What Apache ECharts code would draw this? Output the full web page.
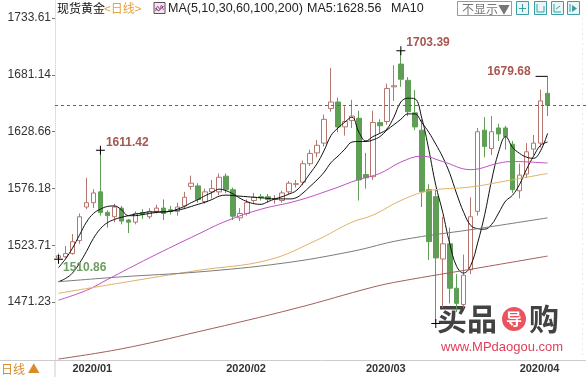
<!DOCTYPE html>
<html>
<head>
<meta charset="utf-8">
<script src="https://cdn.jsdelivr.net/npm/echarts@6/dist/echarts.min.js"></script>
<style>
  html, body { margin: 0; padding: 0; background: #fff; }
  #main { width: 586px; height: 377px; }
</style>
</head>
<body>
<div id="main"></div>
<script>
// trading days shown on the chart
var dates = [
  '2019/12/30', '2019/12/31',
  '2020/01/02', '2020/01/03', '2020/01/06', '2020/01/07', '2020/01/08', '2020/01/09', '2020/01/10',
  '2020/01/13', '2020/01/14', '2020/01/15', '2020/01/16', '2020/01/17', '2020/01/20', '2020/01/21',
  '2020/01/22', '2020/01/23', '2020/01/24', '2020/01/27', '2020/01/28', '2020/01/29', '2020/01/30', '2020/01/31',
  '2020/02/03', '2020/02/04', '2020/02/05', '2020/02/06', '2020/02/07', '2020/02/10', '2020/02/11',
  '2020/02/12', '2020/02/13', '2020/02/14', '2020/02/17', '2020/02/18', '2020/02/19', '2020/02/20',
  '2020/02/21', '2020/02/24', '2020/02/25', '2020/02/26', '2020/02/27', '2020/02/28',
  '2020/03/02', '2020/03/03', '2020/03/04', '2020/03/05', '2020/03/06', '2020/03/09', '2020/03/10',
  '2020/03/11', '2020/03/12', '2020/03/13', '2020/03/16', '2020/03/17', '2020/03/18', '2020/03/19',
  '2020/03/20', '2020/03/23', '2020/03/24', '2020/03/25', '2020/03/26', '2020/03/27', '2020/03/30', '2020/03/31',
  '2020/04/01', '2020/04/02', '2020/04/03', '2020/04/06', '2020/04/07'
];

var opens = [
  1512, 1513,
  1516, 1528, 1559, 1563, 1573, 1554, 1550, 1558, 1547, 1545, 1554, 1550, 1555, 1558,
  1556.5, 1555, 1560, 1578, 1578.5, 1564, 1573, 1573,
  1587.5, 1575, 1549, 1553, 1565, 1568.5, 1568.5, 1566, 1565, 1573, 1580, 1582, 1599, 1609,
  1618, 1650, 1656, 1633, 1639, 1641,
  1589, 1587, 1637, 1638, 1670, 1691, 1676, 1646, 1630, 1575, 1568.5, 1511, 1525, 1484,
  1469, 1501, 1555, 1630, 1613, 1632, 1632, 1617,
  1574, 1589.5, 1612.5, 1618, 1664
];
var closes = [
  1514, 1516,
  1527, 1550, 1563, 1572, 1554, 1551, 1559, 1546, 1545, 1553, 1552, 1555, 1558, 1553,
  1555, 1559, 1568, 1581, 1566, 1573, 1576, 1586.5,
  1575, 1550.5, 1553, 1563, 1568, 1567.5, 1566, 1566.5, 1572, 1581, 1580.5, 1599, 1608.5, 1616,
  1640, 1656, 1633, 1638, 1643, 1584,
  1586, 1637, 1634, 1668.5, 1671, 1677, 1647, 1633, 1573, 1527, 1512, 1525, 1484, 1470,
  1496, 1550, 1628.5, 1615, 1628.5, 1626.5, 1624, 1575,
  1588.5, 1610, 1618, 1657, 1653
];
var lows = [
  1510.86, 1512,
  1515, 1525, 1557, 1558, 1551, 1540, 1545, 1543, 1535, 1543, 1548, 1548, 1553, 1547,
  1552, 1551, 1557, 1575, 1563, 1562, 1567, 1570,
  1572, 1547, 1546, 1551, 1562, 1565, 1563, 1562, 1563, 1571, 1577, 1579, 1597, 1605,
  1615, 1647, 1628, 1625, 1632, 1565,
  1576, 1584, 1627, 1635, 1657, 1670, 1643, 1630, 1559, 1510, 1451.5, 1466, 1470, 1462,
  1466, 1497, 1551, 1605, 1607, 1620, 1612, 1572,
  1567, 1586, 1607, 1614, 1643
];
var highs = [
  1516, 1523,
  1534, 1553, 1586, 1575.5, 1611.42, 1556, 1562, 1560, 1548, 1555, 1557, 1558, 1561, 1566,
  1560, 1563, 1573, 1588, 1581, 1576, 1584, 1590,
  1590, 1577, 1558, 1566, 1572, 1571, 1571, 1570, 1574, 1583, 1584, 1602, 1612, 1621,
  1644.5, 1687.5, 1660, 1652, 1658, 1648,
  1609, 1648, 1640, 1673, 1690, 1703.39, 1679, 1667, 1640, 1580, 1575, 1550, 1540, 1497,
  1515, 1568, 1632, 1642, 1643, 1636, 1634, 1620,
  1599, 1618, 1625.5, 1667.5, 1679.68
];

// moving averages
var ma5 = [
  1503, 1511, 1521, 1533, 1545, 1553, 1557, 1559.5, 1560, 1556.5, 1551, 1551, 1552, 1553, 1554, 1554.5,
  1555, 1557, 1559.5, 1563, 1566, 1569.5, 1572.5, 1575.5, 1574, 1571, 1567, 1564, 1562, 1561.5, 1564,
  1566.5, 1568.5, 1571, 1574, 1581, 1590, 1599, 1611, 1625, 1632, 1637.5, 1642, 1628, 1620, 1624, 1627,
  1631, 1642, 1656, 1659.5, 1659, 1641, 1612, 1579, 1554, 1525, 1504, 1498, 1505, 1526, 1552, 1584,
  1610, 1624, 1614, 1608.5, 1605, 1604, 1611, 1627
];
var ma10 = [
  1490, 1493, 1498, 1507, 1518, 1530, 1539, 1544.5, 1547.5, 1549.5, 1551, 1552.5, 1553.5, 1554.5, 1554.5,
  1554.5, 1555, 1556, 1557.5, 1559.5, 1561.5, 1563.5, 1566, 1569, 1570, 1569.5, 1569, 1568.5, 1568, 1567.5,
  1567, 1566.5, 1566.5, 1566.5, 1567.5, 1572, 1578, 1584, 1591, 1600, 1606, 1612.5, 1619, 1619.5, 1619.5,
  1621, 1624, 1630, 1635, 1640, 1645, 1645, 1637, 1628, 1617, 1605, 1590, 1571, 1554, 1542, 1539, 1538.5,
  1543, 1553.5, 1564.5, 1570, 1580, 1594, 1606, 1616, 1619
];
// [day index, value] points for the slow averages
var ma30 = [[0, 1473], [4, 1482], [7, 1492], [13, 1512], [20, 1534], [24, 1546], [29, 1557], [34, 1564.5],
  [39, 1575], [43, 1584.5], [46, 1590], [49, 1600.5], [52, 1606], [55, 1601], [59, 1593.5], [63, 1599.5],
  [65, 1601], [70, 1599.6]];
var ma60 = [[0, 1479.3], [9, 1489], [20, 1500.5], [30, 1510], [37, 1528.5], [42, 1545], [45, 1551.5],
  [49, 1565], [53, 1574], [59, 1577.5], [64, 1583], [70, 1590]];
var ma100 = [[0, 1490], [9, 1494.5], [20, 1499], [32, 1507], [42, 1518], [49, 1528.5], [60, 1539], [70, 1549]];
var ma200 = [[0, 1418.6], [9, 1428], [20, 1443.8], [34, 1465.5], [45, 1485], [49, 1490.5], [60, 1502.6], [70, 1513.7]];

var yTicks = [1471.23, 1523.71, 1576.18, 1628.66, 1681.14, 1733.61];

var font = '"Liberation Sans", Arial, "Noto Sans CJK SC", sans-serif';
var cjk = '"Noto Sans CJK SC", "Liberation Sans", sans-serif';

function isMonthStart(idx) {
  if (idx <= 0 || idx >= dates.length) return false;
  return dates[idx].slice(0, 7) !== dates[idx - 1].slice(0, 7);
}

var candles = dates.map(function (d, i) {
  return [opens[i], closes[i], lows[i], highs[i]];
});
var last = dates.length - 1;

var chart = echarts.init(document.getElementById('main'));

function maLine(name, data, color) {
  return {
    name: name,
    type: 'line',
    data: data,
    smooth: 0.4,
    showSymbol: false,
    symbol: 'none',
    silent: true,
    lineStyle: { width: 1, color: color }
  };
}

var plus = 'path://M0,4H9V5H0Z M4,0H5V9H4Z';

var option = {
  animation: false,
  backgroundColor: '#ffffff',
  grid: { left: 55, top: 0, width: 532, height: 360 },
  xAxis: {
    type: 'category',
    data: dates,
    max: 75,
    boundaryGap: true,
    axisLine: { lineStyle: { color: '#cccccc' } },
    axisTick: { alignWithLabel: true, length: 5, interval: isMonthStart, lineStyle: { color: '#999999' } },
    axisLabel: {
      interval: isMonthStart,
      formatter: function (v) { return v ? v.slice(0, 7) : ''; },
      align: 'left',
      margin: 3,
      fontSize: 11,
      fontWeight: 'bold',
      color: '#333333',
      fontFamily: font
    },
    splitLine: { show: false }
  },
  yAxis: {
    type: 'value',
    min: 1417.7,
    max: 1750.2,
    axisLine: { show: true, lineStyle: { color: '#d9d9d9', type: 'dotted' } },
    axisTick: { show: true, length: 3, customValues: yTicks, lineStyle: { color: '#777777' } },
    axisLabel: {
      customValues: yTicks,
      formatter: function (v) { return v.toFixed(2); },
      margin: 4,
      fontSize: 12,
      color: '#333333',
      fontFamily: font
    },
    splitLine: { show: false }
  },
  series: [
    {
      name: '现货黄金',
      type: 'candlestick',
      data: candles,
      barWidth: 5,
      itemStyle: {
        color: '#ffffff',
        color0: '#5f9f55',
        borderColor: '#b4766e',
        borderColor0: '#5f9f55',
        borderWidth: 1
      },
      markLine: {
        silent: true,
        symbol: 'none',
        label: { show: false },
        lineStyle: { type: [3, 3], color: '#3d6f7f', width: 1 },
        data: [{ yAxis: closes[last] }]
      },
      markPoint: {
        silent: true,
        symbol: plus,
        symbolSize: 9,
        itemStyle: { color: '#000000' },
        label: {
          show: true,
          fontSize: 12,
          fontWeight: 'bold',
          color: '#a8564e',
          fontFamily: font,
          formatter: function (p) { return p.value.toFixed(2); }
        },
        data: [
          { coord: [6, highs[6]], value: highs[6], label: { position: 'right', offset: [-4, -8] } },
          { coord: [49, highs[49]], value: highs[49], label: { position: 'right', offset: [-4, -8] } },
          {
            coord: [last, highs[last]], value: highs[last],
            symbol: 'rect', symbolSize: [12, 1], symbolOffset: [-6, 0],
            label: { position: 'left', offset: [0, -5] }
          },
          { coord: [0, lows[0]], value: lows[0], label: { position: 'right', offset: [-5, 9], color: '#6e9e62' } },
          { coord: [54, lows[54]], value: lows[54], label: { show: false } }
        ]
      }
    },
    maLine('MA5', ma5, '#111111'),
    maLine('MA10', ma10, '#111111'),
    maLine('MA30', ma30, '#c24fc2'),
    maLine('MA60', ma60, '#e2b263'),
    maLine('MA100', ma100, '#7c7c7c'),
    maLine('MA200', ma200, '#a0605a')
  ],
  graphic: [
    // header line
    { type: 'text', left: 57, top: 2, style: { text: '现货黄金', fill: '#111111', font: '12px ' + cjk } },
    { type: 'text', left: 104, top: 2, style: { text: '<日线>', fill: '#e5a23a', font: '12px ' + cjk } },
    {
      type: 'group', left: 153, top: 2,
      children: [
        { type: 'rect', shape: { x: 0.5, y: 0.5, width: 11, height: 11 }, style: { fill: '#f6e3ee', stroke: '#555555', lineWidth: 1 } },
        { type: 'polyline', shape: { points: [[2, 9], [4, 4], [6, 7], [8, 3], [10, 8]] }, style: { stroke: '#c24fc2', fill: null, lineWidth: 1 } },
        { type: 'polyline', shape: { points: [[2, 6], [5, 9], [8, 6], [10, 4]] }, style: { stroke: '#333333', fill: null, lineWidth: 1 } }
      ]
    },
    { type: 'text', left: 168, top: 2, style: { text: 'MA(5,10,30,60,100,200)', fill: '#222222', font: '12.5px ' + font } },
    { type: 'text', left: 307, top: 2, style: { text: 'MA5:1628.56', fill: '#222222', font: '12.5px ' + font } },
    { type: 'text', left: 391, top: 2, style: { text: 'MA10', fill: '#222222', font: '12.5px ' + font } },
    {
      type: 'group', left: 457, top: 1,
      children: [
        { type: 'rect', shape: { x: 0.5, y: 0.5, width: 54, height: 14 }, style: { fill: '#ffffff', stroke: '#999999', lineWidth: 1 } },
        { type: 'text', x: 5, y: 2, style: { text: '不显示▼', fill: '#777777', font: '12px ' + cjk } }
      ]
    },
    {
      type: 'group', left: 516, top: 1,
      children: [0, 18, 35, 51].map(function (dx) {
        return { type: 'rect', shape: { x: dx + 0.5, y: 0.5, width: 12, height: 13 }, style: { fill: '#eaf6f6', stroke: '#3a9fa5', lineWidth: 1 } };
      }).concat([
        { type: 'polyline', shape: { points: [[6.5, 3], [6.5, 11]] }, style: { stroke: '#3a9fa5', fill: null } },
        { type: 'polyline', shape: { points: [[3, 7.5], [10, 7.5]] }, style: { stroke: '#3a9fa5', fill: null } },
        { type: 'polyline', shape: { points: [[21, 3], [21, 11], [28, 11], [28, 5]] }, style: { stroke: '#3a9fa5', fill: null } },
        { type: 'polyline', shape: { points: [[38, 3], [38, 11], [45, 11]] }, style: { stroke: '#3a9fa5', fill: null } },
        { type: 'polyline', shape: { points: [[40, 8], [44, 5]] }, style: { stroke: '#3a9fa5', fill: null } },
        { type: 'polyline', shape: { points: [[54, 3], [54, 11]] }, style: { stroke: '#3a9fa5', fill: null } },
        { type: 'polygon', shape: { points: [[56, 4], [61, 7.5], [56, 11]] }, style: { fill: '#3a9fa5' } }
      ])
    },
    // bottom-left period box
    { type: 'rect', shape: { x: -1, y: 360.5, width: 56, height: 18 }, style: { fill: '#ffffff', stroke: '#cccccc', lineWidth: 1 } },
    { type: 'text', left: 1, top: 363, style: { text: '日线 ▲', fill: '#d98c2b', font: '12px ' + cjk } },
    // faint right border
    { type: 'line', shape: { x1: 582.5, y1: 18, x2: 582.5, y2: 358 }, style: { stroke: '#e8e8e8', lineDash: [2, 3] } },
    // watermark
    {
      type: 'group', left: 437, top: 304, z: 100,
      children: [
        { type: 'text', x: 0, y: 0, style: { text: '买品', fill: '#2e2e2e', font: 'bold 30px ' + cjk, opacity: 0.9 } },
        { type: 'circle', shape: { cx: 77, cy: 15, r: 12 }, style: { fill: '#e8404f', opacity: 0.9 } },
        { type: 'text', x: 69, y: 7, style: { text: '导', fill: '#ffffff', font: 'bold 16px ' + cjk } },
        { type: 'text', x: 92, y: 0, style: { text: '购', fill: '#2e2e2e', font: 'bold 30px ' + cjk, opacity: 0.9 } },
        { type: 'text', x: 4, y: 37, style: { text: 'www.MPdaogou.com', fill: '#e0405a', font: '13px ' + font } }
      ]
    }
  ]
};

chart.setOption(option);
</script>
</body>
</html>
